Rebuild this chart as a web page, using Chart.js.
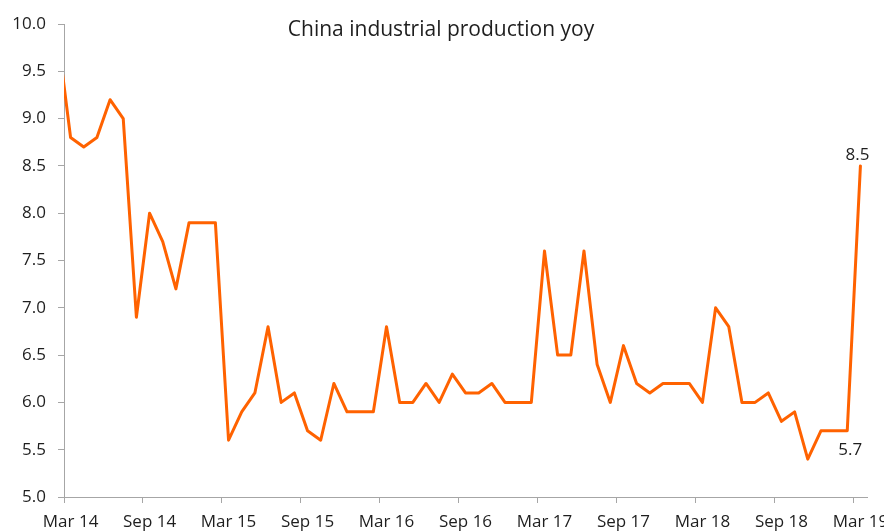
<!DOCTYPE html>
<html>
<head>
<meta charset="utf-8">
<title>China industrial production yoy</title>
<script src="https://cdn.jsdelivr.net/npm/chart.js@4/dist/chart.umd.min.js"></script>
<style>
  html, body { margin: 0; padding: 0; background: #ffffff; }
  #wrap { width: 884px; height: 532px; position: relative; }
</style>
</head>
<body>
<div id="wrap"><canvas id="chart" width="884" height="532"></canvas></div>
<script>
// Monthly industrial production, % year on year (Jan/Feb carry the combined reading)
const months = [
  'Feb 14',
  'Mar 14','Apr 14','May 14','Jun 14','Jul 14','Aug 14','Sep 14','Oct 14','Nov 14','Dec 14',
  'Jan 15','Feb 15','Mar 15','Apr 15','May 15','Jun 15','Jul 15','Aug 15','Sep 15','Oct 15','Nov 15','Dec 15',
  'Jan 16','Feb 16','Mar 16','Apr 16','May 16','Jun 16','Jul 16','Aug 16','Sep 16','Oct 16','Nov 16','Dec 16',
  'Jan 17','Feb 17','Mar 17','Apr 17','May 17','Jun 17','Jul 17','Aug 17','Sep 17','Oct 17','Nov 17','Dec 17',
  'Jan 18','Feb 18','Mar 18','Apr 18','May 18','Jun 18','Jul 18','Aug 18','Sep 18','Oct 18','Nov 18','Dec 18',
  'Jan 19','Feb 19','Mar 19'
];
const ipYoy = [
  9.9,
  8.8, 8.7, 8.8, 9.2, 9.0, 6.9, 8.0, 7.7, 7.2, 7.9,
  7.9, 7.9, 5.6, 5.9, 6.1, 6.8, 6.0, 6.1, 5.7, 5.6, 6.2, 5.9,
  5.9, 5.9, 6.8, 6.0, 6.0, 6.2, 6.0, 6.3, 6.1, 6.1, 6.2, 6.0,
  6.0, 6.0, 7.6, 6.5, 6.5, 7.6, 6.4, 6.0, 6.6, 6.2, 6.1, 6.2,
  6.2, 6.2, 6.0, 7.0, 6.8, 6.0, 6.0, 6.1, 5.8, 5.9, 5.4, 5.7,
  5.7, 5.7, 8.5
];
const tickLabels = ['Mar 14','Sep 14','Mar 15','Sep 15','Mar 16','Sep 16','Mar 17','Sep 17','Mar 18','Sep 18','Mar 19'];
const labelledMonths = { 'Feb 19': 'below', 'Mar 19': 'above' };

const firstShown = months.indexOf('Mar 14');
const monthCount = months.length - firstShown;          // months on the axis
// Each month occupies one unit; the point sits in the middle of its month
const points = ipYoy.map((v, i) => ({ x: i - firstShown + 0.5, y: v }));

const FONT = "'Open Sans', 'DejaVu Sans', sans-serif";
const TEXT = '#1e1e1e';
const AXIS = '#a6a6a6';
const ORANGE = '#ff6200';

const titlePlugin = {
  id: 'centerTitle',
  afterDraw(chart) {
    const { ctx } = chart;
    ctx.save();
    ctx.font = '21px ' + FONT;
    ctx.fillStyle = TEXT;
    ctx.textAlign = 'center';
    ctx.textBaseline = 'middle';
    ctx.fillText('China industrial production yoy', 441, 30);
    ctx.restore();
  }
};

const valueLabels = {
  id: 'valueLabels',
  afterDatasetsDraw(chart) {
    const { ctx } = chart;
    const meta = chart.getDatasetMeta(0);
    ctx.save();
    ctx.font = '17px ' + FONT;
    ctx.fillStyle = TEXT;
    ctx.textAlign = 'center';
    ctx.textBaseline = 'middle';
    months.forEach((m, i) => {
      const where = labelledMonths[m];
      if (!where) return;
      const el = meta.data[i];
      const txt = ipYoy[i].toFixed(1);
      if (where === 'above') ctx.fillText(txt, el.x - 3, el.y - 11);
      else ctx.fillText(txt, el.x + 3, el.y + 19);
    });
    ctx.restore();
  }
};

new Chart(document.getElementById('chart'), {
  type: 'line',
  data: {
    datasets: [{
      label: 'China industrial production yoy',
      data: points,
      borderColor: ORANGE,
      borderWidth: 3,
      borderJoinStyle: 'round',
      borderCapStyle: 'round',
      pointRadius: 0,
      tension: 0,
      fill: false,
      clip: 0
    }]
  },
  options: {
    responsive: false,
    animation: false,
    devicePixelRatio: 1,
    layout: { padding: { left: 0, right: 17, top: 24, bottom: 0 } },
    plugins: {
      legend: { display: false },
      tooltip: { enabled: false },
      title: { display: false }
    },
    scales: {
      x: {
        type: 'linear',
        min: 0,
        max: monthCount,
        afterBuildTicks(scale) {
          scale.ticks = tickLabels.map((_, k) => ({ value: k * 6 }));
        },
        afterFit(scale) {
          scale.height = 35;
          scale.paddingLeft = 0;
          scale.paddingRight = 0;
        },
        ticks: {
          autoSkip: false,
          maxRotation: 0,
          minRotation: 0,
          padding: 9,
          labelOffset: 6.6,
          color: TEXT,
          font: { family: FONT, size: 17 },
          callback: (v) => tickLabels[Math.round(v / 6)]
        },
        grid: { drawOnChartArea: false, drawTicks: true, tickLength: 6, color: AXIS, lineWidth: 1 },
        border: { display: true, color: AXIS, width: 1 }
      },
      y: {
        min: 5,
        max: 10,
        afterFit(scale) {
          scale.width = 64;
          scale.paddingTop = 0;
          scale.paddingBottom = 0;
        },
        ticks: {
          stepSize: 0.5,
          padding: 12,
          color: TEXT,
          font: { family: FONT, size: 17 },
          callback: (v) => Number(v).toFixed(1)
        },
        grid: { drawOnChartArea: false, drawTicks: true, tickLength: 6, color: AXIS, lineWidth: 1 },
        border: { display: true, color: AXIS, width: 1 }
      }
    }
  },
  plugins: [titlePlugin, valueLabels]
});
</script>
</body>
</html>
